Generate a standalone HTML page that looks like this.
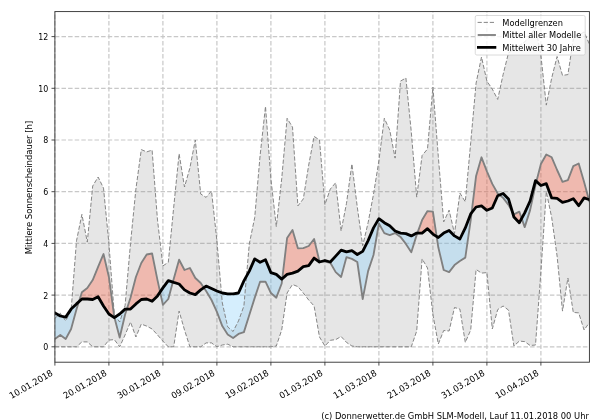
<!DOCTYPE html>
<html lang="de"><head><meta charset="utf-8"><title>Mittlere Sonnenscheindauer</title>
<style>html,body{margin:0;padding:0;background:#fff;}body{width:600px;height:420px;overflow:hidden;}</style>
</head><body>
<svg width="600" height="420" viewBox="0 0 600 420" style="display:block;will-change:transform;font-family:'DejaVu Sans', 'Liberation Sans', sans-serif;font-size:8.89px" fill="#000">
<rect width="600" height="420" fill="#fff"/>
<defs><clipPath id="ax"><rect x="54.9" y="11.6" width="534.5" height="350.59999999999997"/></clipPath></defs>
<g stroke="#c8c8c8" stroke-width="1.2" stroke-dasharray="4.5 2.1" fill="none"><line x1="54.9" y1="362.2" x2="54.9" y2="11.6"/><line x1="108.9" y1="362.2" x2="108.9" y2="11.6"/><line x1="162.9" y1="362.2" x2="162.9" y2="11.6"/><line x1="216.9" y1="362.2" x2="216.9" y2="11.6"/><line x1="270.9" y1="362.2" x2="270.9" y2="11.6"/><line x1="324.9" y1="362.2" x2="324.9" y2="11.6"/><line x1="378.9" y1="362.2" x2="378.9" y2="11.6"/><line x1="432.9" y1="362.2" x2="432.9" y2="11.6"/><line x1="486.9" y1="362.2" x2="486.9" y2="11.6"/><line x1="540.9" y1="362.2" x2="540.9" y2="11.6"/><line x1="54.9" y1="346.8" x2="589.4" y2="346.8"/><line x1="54.9" y1="295.1" x2="589.4" y2="295.1"/><line x1="54.9" y1="243.4" x2="589.4" y2="243.4"/><line x1="54.9" y1="191.7" x2="589.4" y2="191.7"/><line x1="54.9" y1="140.0" x2="589.4" y2="140.0"/><line x1="54.9" y1="88.3" x2="589.4" y2="88.3"/><line x1="54.9" y1="36.6" x2="589.4" y2="36.6"/></g>
<g clip-path="url(#ax)">
<polygon points="54.9,318.4 60.3,313.2 65.7,320.9 71.1,310.6 76.5,240.8 81.9,214.4 87.3,242.1 92.7,186.0 98.1,177.0 103.5,188.1 108.9,243.4 114.3,314.5 119.7,322.0 125.1,305.4 130.5,243.4 135.9,189.1 141.3,149.6 146.7,151.9 152.1,150.1 157.5,220.1 162.9,265.9 168.3,262.3 173.7,207.2 179.1,153.7 184.5,187.0 189.9,167.9 195.3,140.0 200.7,194.0 206.1,197.4 211.5,190.9 216.9,240.8 222.3,302.9 227.7,326.9 233.1,331.5 238.5,320.9 243.9,306.0 249.3,243.9 254.7,217.6 260.1,155.5 265.5,106.4 270.9,178.8 276.3,226.6 281.7,178.8 287.1,118.3 292.5,127.1 297.9,205.9 303.3,198.9 308.7,165.1 314.1,136.4 319.5,140.0 324.9,204.6 330.3,189.1 335.7,182.7 341.1,231.0 346.5,203.3 351.9,164.0 357.3,207.2 362.7,245.7 368.1,222.7 373.5,194.3 378.9,160.7 384.3,118.3 389.7,129.9 395.1,158.1 400.5,81.1 405.9,78.0 411.3,132.0 416.7,197.1 422.1,155.5 427.5,149.0 432.9,87.0 438.3,156.5 443.7,221.9 449.1,210.1 454.5,233.6 459.9,193.0 465.3,201.8 470.7,142.6 476.1,83.1 481.5,57.0 486.9,81.1 492.3,89.1 497.7,99.4 503.1,74.6 508.5,52.9 513.9,49.5 519.3,45.6 524.7,41.8 530.1,36.6 535.5,26.8 540.9,55.5 546.3,105.1 551.7,78.0 557.1,56.5 562.5,75.4 567.9,74.6 573.3,39.2 578.7,35.3 584.1,31.9 589.5,44.4 589.5,322.5 584.1,330.0 578.7,312.9 573.3,312.4 567.9,278.0 562.5,311.1 557.1,256.1 551.7,217.6 546.3,191.7 540.9,271.8 535.5,345.0 530.1,345.5 524.7,341.6 519.3,341.1 513.9,346.0 508.5,310.1 503.1,306.0 497.7,309.6 492.3,329.0 486.9,272.6 481.5,273.1 476.1,269.5 470.7,330.0 465.3,342.4 459.9,309.1 454.5,307.5 449.1,331.0 443.7,330.5 438.3,344.0 432.9,314.5 427.5,268.0 422.1,258.9 416.7,331.0 411.3,346.8 405.9,346.8 400.5,346.8 395.1,346.8 389.7,346.8 384.3,346.8 378.9,346.8 373.5,346.8 368.1,346.8 362.7,346.8 357.3,346.8 351.9,346.0 346.5,342.4 341.1,336.5 335.7,339.6 330.3,340.3 324.9,346.0 319.5,337.0 314.1,306.0 308.7,300.0 303.3,293.0 297.9,286.6 292.5,284.5 287.1,293.0 281.7,330.0 276.3,346.0 270.9,346.8 265.5,346.8 260.1,346.8 254.7,346.8 249.3,346.8 243.9,346.8 238.5,346.8 233.1,346.8 227.7,344.2 222.3,345.0 216.9,346.8 211.5,342.9 206.1,342.9 200.7,346.8 195.3,346.8 189.9,346.8 184.5,330.0 179.1,311.1 173.7,346.8 168.3,346.8 162.9,341.1 157.5,334.9 152.1,329.0 146.7,326.1 141.3,324.1 135.9,337.0 130.5,322.0 125.1,334.9 119.7,346.8 114.3,339.6 108.9,340.1 103.5,346.8 98.1,346.8 92.7,346.8 87.3,341.9 81.9,341.9 76.5,346.8 71.1,346.8 65.7,346.8 60.3,346.8 54.9,346.8" fill="rgba(128,128,128,0.2)"/>
<g fill="rgba(255,99,71,0.35)"><polygon points="78.9,301.7 81.9,292.3 87.3,288.1 92.7,280.1 98.1,266.9 103.5,254.0 108.9,277.0 114.3,317.1 114.4,317.5 114.4,317.5 114.3,317.6 108.9,314.0 103.5,306.0 98.1,296.7 92.7,299.5 87.3,299.0 81.9,299.0 78.9,301.7"/><polygon points="126.8,309.1 130.5,297.7 135.9,277.0 141.3,263.0 146.7,254.5 152.1,253.5 157.5,280.1 160.1,292.0 160.1,292.0 157.5,295.9 152.1,301.3 146.7,299.0 141.3,299.5 135.9,303.9 130.5,309.1 126.8,309.1"/><polygon points="172.9,282.2 173.7,279.1 179.1,259.7 184.5,270.0 189.9,268.0 195.3,278.0 200.7,283.0 203.9,287.7 203.9,287.7 200.7,289.9 195.3,294.6 189.9,293.0 184.5,289.9 179.1,284.0 173.7,282.4 172.9,282.2"/><polygon points="282.3,278.6 287.1,238.0 292.5,230.0 297.9,248.3 303.3,248.1 308.7,246.0 314.1,239.0 319.5,261.5 321.3,261.5 321.3,261.5 319.5,262.0 314.1,258.1 308.7,265.6 303.3,266.7 297.9,271.1 292.5,273.1 287.1,274.4 282.3,278.6"/><polygon points="417.4,233.1 422.1,220.1 427.5,211.1 432.9,211.6 436.7,236.4 436.7,236.4 432.9,234.1 427.5,228.7 422.1,233.1 417.4,233.1"/><polygon points="471.6,212.8 476.1,175.9 481.5,157.3 486.9,171.3 492.3,183.9 497.7,193.5 499.6,195.0 499.6,195.0 497.7,195.8 492.3,208.0 486.9,210.3 481.5,205.9 476.1,207.0 471.6,212.8"/><polygon points="512.3,211.5 513.9,214.4 519.3,211.6 521.7,218.4 521.7,218.4 519.3,222.7 513.9,217.0 512.3,211.5"/><polygon points="536.4,181.4 540.9,164.0 546.3,154.5 551.7,157.3 557.1,170.0 562.5,181.9 567.9,180.1 573.3,166.1 578.7,163.5 584.1,181.9 588.8,199.5 588.8,199.5 584.1,197.9 578.7,205.7 573.3,198.7 567.9,201.0 562.5,202.3 557.1,198.4 551.7,197.9 546.3,183.7 540.9,185.5 536.4,181.4"/></g>
<g fill="rgba(135,206,250,0.35)"><polygon points="54.9,339.0 60.3,334.9 65.7,339.0 71.1,329.0 76.5,309.3 78.9,301.7 78.9,301.7 76.5,303.9 71.1,309.1 65.7,317.1 60.3,316.0 54.9,312.9"/><polygon points="114.4,317.5 119.7,337.5 125.1,314.5 126.8,309.1 126.8,309.1 125.1,309.1 119.7,314.0 114.4,317.5"/><polygon points="160.1,292.0 162.9,304.9 168.3,299.0 172.9,282.2 172.9,282.2 168.3,280.6 162.9,287.9 160.1,292.0"/><polygon points="203.9,287.7 206.1,291.0 211.5,300.0 216.9,311.9 222.3,326.1 227.7,334.4 233.1,338.0 238.5,333.9 243.9,332.1 249.3,315.0 254.7,297.9 260.1,281.7 265.5,281.7 270.9,293.0 276.3,297.7 281.7,283.5 282.3,278.6 282.3,278.6 281.7,279.1 276.3,274.4 270.9,272.6 265.5,259.7 260.1,262.3 254.7,258.9 249.3,271.1 243.9,280.9 238.5,293.0 233.1,293.8 227.7,293.8 222.3,293.0 216.9,291.0 211.5,288.6 206.1,286.1 203.9,287.7"/><polygon points="321.3,261.5 324.9,261.5 330.3,262.8 335.7,272.1 341.1,277.0 346.5,257.1 351.9,258.9 357.3,262.0 362.7,299.0 368.1,271.1 373.5,255.0 378.9,223.5 384.3,233.1 389.7,235.1 395.1,233.1 400.5,236.9 405.9,243.9 411.3,252.2 416.7,234.9 417.4,233.1 417.4,233.1 416.7,233.1 411.3,235.9 405.9,233.6 400.5,233.1 395.1,231.0 389.7,225.8 384.3,222.7 378.9,218.6 373.5,227.9 368.1,240.6 362.7,251.4 357.3,254.5 351.9,250.6 346.5,251.9 341.1,250.1 335.7,256.1 330.3,262.0 324.9,260.5 321.3,261.5"/><polygon points="436.7,236.4 438.3,247.3 443.7,270.0 449.1,272.1 454.5,265.1 459.9,261.0 465.3,257.6 470.7,220.1 471.6,212.8 471.6,212.8 470.7,213.9 465.3,227.9 459.9,239.0 454.5,235.9 449.1,230.5 443.7,233.1 438.3,237.5 436.7,236.4"/><polygon points="499.6,195.0 503.1,197.9 508.5,204.9 512.3,211.5 512.3,211.5 508.5,198.9 503.1,193.5 499.6,195.0"/><polygon points="521.7,218.4 524.7,227.1 530.1,210.1 535.5,185.0 536.4,181.4 536.4,181.4 535.5,180.6 530.1,201.0 524.7,212.9 521.7,218.4"/><polygon points="588.8,199.5 589.5,202.0 589.5,199.7 588.8,199.5"/></g>
<polyline points="54.9,318.4 60.3,313.2 65.7,320.9 71.1,310.6 76.5,240.8 81.9,214.4 87.3,242.1 92.7,186.0 98.1,177.0 103.5,188.1 108.9,243.4 114.3,314.5 119.7,322.0 125.1,305.4 130.5,243.4 135.9,189.1 141.3,149.6 146.7,151.9 152.1,150.1 157.5,220.1 162.9,265.9 168.3,262.3 173.7,207.2 179.1,153.7 184.5,187.0 189.9,167.9 195.3,140.0 200.7,194.0 206.1,197.4 211.5,190.9 216.9,240.8 222.3,302.9 227.7,326.9 233.1,331.5 238.5,320.9 243.9,306.0 249.3,243.9 254.7,217.6 260.1,155.5 265.5,106.4 270.9,178.8 276.3,226.6 281.7,178.8 287.1,118.3 292.5,127.1 297.9,205.9 303.3,198.9 308.7,165.1 314.1,136.4 319.5,140.0 324.9,204.6 330.3,189.1 335.7,182.7 341.1,231.0 346.5,203.3 351.9,164.0 357.3,207.2 362.7,245.7 368.1,222.7 373.5,194.3 378.9,160.7 384.3,118.3 389.7,129.9 395.1,158.1 400.5,81.1 405.9,78.0 411.3,132.0 416.7,197.1 422.1,155.5 427.5,149.0 432.9,87.0 438.3,156.5 443.7,221.9 449.1,210.1 454.5,233.6 459.9,193.0 465.3,201.8 470.7,142.6 476.1,83.1 481.5,57.0 486.9,81.1 492.3,89.1 497.7,99.4 503.1,74.6 508.5,52.9 513.9,49.5 519.3,45.6 524.7,41.8 530.1,36.6 535.5,26.8 540.9,55.5 546.3,105.1 551.7,78.0 557.1,56.5 562.5,75.4 567.9,74.6 573.3,39.2 578.7,35.3 584.1,31.9 589.5,44.4" fill="none" stroke="#808080" stroke-width="0.95" stroke-dasharray="4.2 1.9"/>
<polyline points="54.9,346.8 60.3,346.8 65.7,346.8 71.1,346.8 76.5,346.8 81.9,341.9 87.3,341.9 92.7,346.8 98.1,346.8 103.5,346.8 108.9,340.1 114.3,339.6 119.7,346.8 125.1,334.9 130.5,322.0 135.9,337.0 141.3,324.1 146.7,326.1 152.1,329.0 157.5,334.9 162.9,341.1 168.3,346.8 173.7,346.8 179.1,311.1 184.5,330.0 189.9,346.8 195.3,346.8 200.7,346.8 206.1,342.9 211.5,342.9 216.9,346.8 222.3,345.0 227.7,344.2 233.1,346.8 238.5,346.8 243.9,346.8 249.3,346.8 254.7,346.8 260.1,346.8 265.5,346.8 270.9,346.8 276.3,346.0 281.7,330.0 287.1,293.0 292.5,284.5 297.9,286.6 303.3,293.0 308.7,300.0 314.1,306.0 319.5,337.0 324.9,346.0 330.3,340.3 335.7,339.6 341.1,336.5 346.5,342.4 351.9,346.0 357.3,346.8 362.7,346.8 368.1,346.8 373.5,346.8 378.9,346.8 384.3,346.8 389.7,346.8 395.1,346.8 400.5,346.8 405.9,346.8 411.3,346.8 416.7,331.0 422.1,258.9 427.5,268.0 432.9,314.5 438.3,344.0 443.7,330.5 449.1,331.0 454.5,307.5 459.9,309.1 465.3,342.4 470.7,330.0 476.1,269.5 481.5,273.1 486.9,272.6 492.3,329.0 497.7,309.6 503.1,306.0 508.5,310.1 513.9,346.0 519.3,341.1 524.7,341.6 530.1,345.5 535.5,345.0 540.9,271.8 546.3,191.7 551.7,217.6 557.1,256.1 562.5,311.1 567.9,278.0 573.3,312.4 578.7,312.9 584.1,330.0 589.5,322.5" fill="none" stroke="#808080" stroke-width="0.95" stroke-dasharray="4.2 1.9"/>
<polyline points="54.9,339.0 60.3,334.9 65.7,339.0 71.1,329.0 76.5,309.3 81.9,292.3 87.3,288.1 92.7,280.1 98.1,266.9 103.5,254.0 108.9,277.0 114.3,317.1 119.7,337.5 125.1,314.5 130.5,297.7 135.9,277.0 141.3,263.0 146.7,254.5 152.1,253.5 157.5,280.1 162.9,304.9 168.3,299.0 173.7,279.1 179.1,259.7 184.5,270.0 189.9,268.0 195.3,278.0 200.7,283.0 206.1,291.0 211.5,300.0 216.9,311.9 222.3,326.1 227.7,334.4 233.1,338.0 238.5,333.9 243.9,332.1 249.3,315.0 254.7,297.9 260.1,281.7 265.5,281.7 270.9,293.0 276.3,297.7 281.7,283.5 287.1,238.0 292.5,230.0 297.9,248.3 303.3,248.1 308.7,246.0 314.1,239.0 319.5,261.5 324.9,261.5 330.3,262.8 335.7,272.1 341.1,277.0 346.5,257.1 351.9,258.9 357.3,262.0 362.7,299.0 368.1,271.1 373.5,255.0 378.9,223.5 384.3,233.1 389.7,235.1 395.1,233.1 400.5,236.9 405.9,243.9 411.3,252.2 416.7,234.9 422.1,220.1 427.5,211.1 432.9,211.6 438.3,247.3 443.7,270.0 449.1,272.1 454.5,265.1 459.9,261.0 465.3,257.6 470.7,220.1 476.1,175.9 481.5,157.3 486.9,171.3 492.3,183.9 497.7,193.5 503.1,197.9 508.5,204.9 513.9,214.4 519.3,211.6 524.7,227.1 530.1,210.1 535.5,185.0 540.9,164.0 546.3,154.5 551.7,157.3 557.1,170.0 562.5,181.9 567.9,180.1 573.3,166.1 578.7,163.5 584.1,181.9 589.5,202.0" fill="none" stroke="#808080" stroke-width="1.85" stroke-linejoin="round"/>
<polyline points="54.9,312.9 60.3,316.0 65.7,317.1 71.1,309.1 76.5,303.9 81.9,299.0 87.3,299.0 92.7,299.5 98.1,296.7 103.5,306.0 108.9,314.0 114.3,317.6 119.7,314.0 125.1,309.1 130.5,309.1 135.9,303.9 141.3,299.5 146.7,299.0 152.1,301.3 157.5,295.9 162.9,287.9 168.3,280.6 173.7,282.4 179.1,284.0 184.5,289.9 189.9,293.0 195.3,294.6 200.7,289.9 206.1,286.1 211.5,288.6 216.9,291.0 222.3,293.0 227.7,293.8 233.1,293.8 238.5,293.0 243.9,280.9 249.3,271.1 254.7,258.9 260.1,262.3 265.5,259.7 270.9,272.6 276.3,274.4 281.7,279.1 287.1,274.4 292.5,273.1 297.9,271.1 303.3,266.7 308.7,265.6 314.1,258.1 319.5,262.0 324.9,260.5 330.3,262.0 335.7,256.1 341.1,250.1 346.5,251.9 351.9,250.6 357.3,254.5 362.7,251.4 368.1,240.6 373.5,227.9 378.9,218.6 384.3,222.7 389.7,225.8 395.1,231.0 400.5,233.1 405.9,233.6 411.3,235.9 416.7,233.1 422.1,233.1 427.5,228.7 432.9,234.1 438.3,237.5 443.7,233.1 449.1,230.5 454.5,235.9 459.9,239.0 465.3,227.9 470.7,213.9 476.1,207.0 481.5,205.9 486.9,210.3 492.3,208.0 497.7,195.8 503.1,193.5 508.5,198.9 513.9,217.0 519.3,222.7 524.7,212.9 530.1,201.0 535.5,180.6 540.9,185.5 546.3,183.7 551.7,197.9 557.1,198.4 562.5,202.3 567.9,201.0 573.3,198.7 578.7,205.7 584.1,197.9 589.5,199.7" fill="none" stroke="#000" stroke-width="2.8" stroke-linejoin="round" stroke-linecap="square"/>
</g>
<rect x="54.9" y="11.6" width="534.5" height="350.59999999999997" fill="none" stroke="#2e2e2e" stroke-width="0.9"/>
<g stroke="#2e2e2e" stroke-width="0.85"><line x1="54.9" y1="362.2" x2="54.9" y2="365.59999999999997"/><line x1="108.9" y1="362.2" x2="108.9" y2="365.59999999999997"/><line x1="162.9" y1="362.2" x2="162.9" y2="365.59999999999997"/><line x1="216.9" y1="362.2" x2="216.9" y2="365.59999999999997"/><line x1="270.9" y1="362.2" x2="270.9" y2="365.59999999999997"/><line x1="324.9" y1="362.2" x2="324.9" y2="365.59999999999997"/><line x1="378.9" y1="362.2" x2="378.9" y2="365.59999999999997"/><line x1="432.9" y1="362.2" x2="432.9" y2="365.59999999999997"/><line x1="486.9" y1="362.2" x2="486.9" y2="365.59999999999997"/><line x1="540.9" y1="362.2" x2="540.9" y2="365.59999999999997"/><line x1="54.9" y1="346.8" x2="51.5" y2="346.8"/><line x1="54.9" y1="295.1" x2="51.5" y2="295.1"/><line x1="54.9" y1="243.4" x2="51.5" y2="243.4"/><line x1="54.9" y1="191.7" x2="51.5" y2="191.7"/><line x1="54.9" y1="140.0" x2="51.5" y2="140.0"/><line x1="54.9" y1="88.3" x2="51.5" y2="88.3"/><line x1="54.9" y1="36.6" x2="51.5" y2="36.6"/></g>
<text transform="translate(48.2,350.2) scale(0.89,1)" text-anchor="end">0</text>
<text transform="translate(48.2,298.5) scale(0.89,1)" text-anchor="end">2</text>
<text transform="translate(48.2,246.8) scale(0.89,1)" text-anchor="end">4</text>
<text transform="translate(48.2,195.1) scale(0.89,1)" text-anchor="end">6</text>
<text transform="translate(48.2,143.4) scale(0.89,1)" text-anchor="end">8</text>
<text transform="translate(48.2,91.7) scale(0.89,1)" text-anchor="end">10</text>
<text transform="translate(48.2,40.0) scale(0.89,1)" text-anchor="end">12</text>
<text transform="translate(53.5,374.9) rotate(-30) scale(0.953,1)" text-anchor="end">10.01.2018</text>
<text transform="translate(107.5,374.9) rotate(-30) scale(0.953,1)" text-anchor="end">20.01.2018</text>
<text transform="translate(161.5,374.9) rotate(-30) scale(0.953,1)" text-anchor="end">30.01.2018</text>
<text transform="translate(215.5,374.9) rotate(-30) scale(0.953,1)" text-anchor="end">09.02.2018</text>
<text transform="translate(269.5,374.9) rotate(-30) scale(0.953,1)" text-anchor="end">19.02.2018</text>
<text transform="translate(323.5,374.9) rotate(-30) scale(0.953,1)" text-anchor="end">01.03.2018</text>
<text transform="translate(377.5,374.9) rotate(-30) scale(0.953,1)" text-anchor="end">11.03.2018</text>
<text transform="translate(431.5,374.9) rotate(-30) scale(0.953,1)" text-anchor="end">21.03.2018</text>
<text transform="translate(485.5,374.9) rotate(-30) scale(0.953,1)" text-anchor="end">31.03.2018</text>
<text transform="translate(539.5,374.9) rotate(-30) scale(0.953,1)" text-anchor="end">10.04.2018</text>
<text transform="translate(32.1,187.5) rotate(-90) scale(0.953,1)" text-anchor="middle">Mittlere Sonnenscheindauer [h]</text>
<rect x="475.25" y="15.5" width="109.95" height="39.5" rx="1.6" fill="rgba(255,255,255,0.8)" stroke="rgba(204,204,204,0.8)" stroke-width="0.9"/>
<line x1="477.6" y1="22.4" x2="495.6" y2="22.4" stroke="#808080" stroke-width="0.95" stroke-dasharray="4.2 1.9"/>
<line x1="477.7" y1="35.0" x2="495.9" y2="35.0" stroke="#808080" stroke-width="1.85"/>
<line x1="478.4" y1="47.35" x2="494.9" y2="47.3" stroke="#000" stroke-width="2.8" stroke-linecap="square"/>
<text transform="translate(502.3,25.7) scale(0.9315,1)">Modellgrenzen</text>
<text transform="translate(502.3,38.2) scale(0.9315,1)">Mittel aller Modelle</text>
<text transform="translate(502.3,50.7) scale(0.9315,1)">Mittelwert 30 Jahre</text>
<text transform="translate(588.9,418.9) scale(0.941,1)" text-anchor="end">(c) Donnerwetter.de GmbH SLM-Modell, Lauf 11.01.2018 00 Uhr</text>
</svg>
</body></html>
